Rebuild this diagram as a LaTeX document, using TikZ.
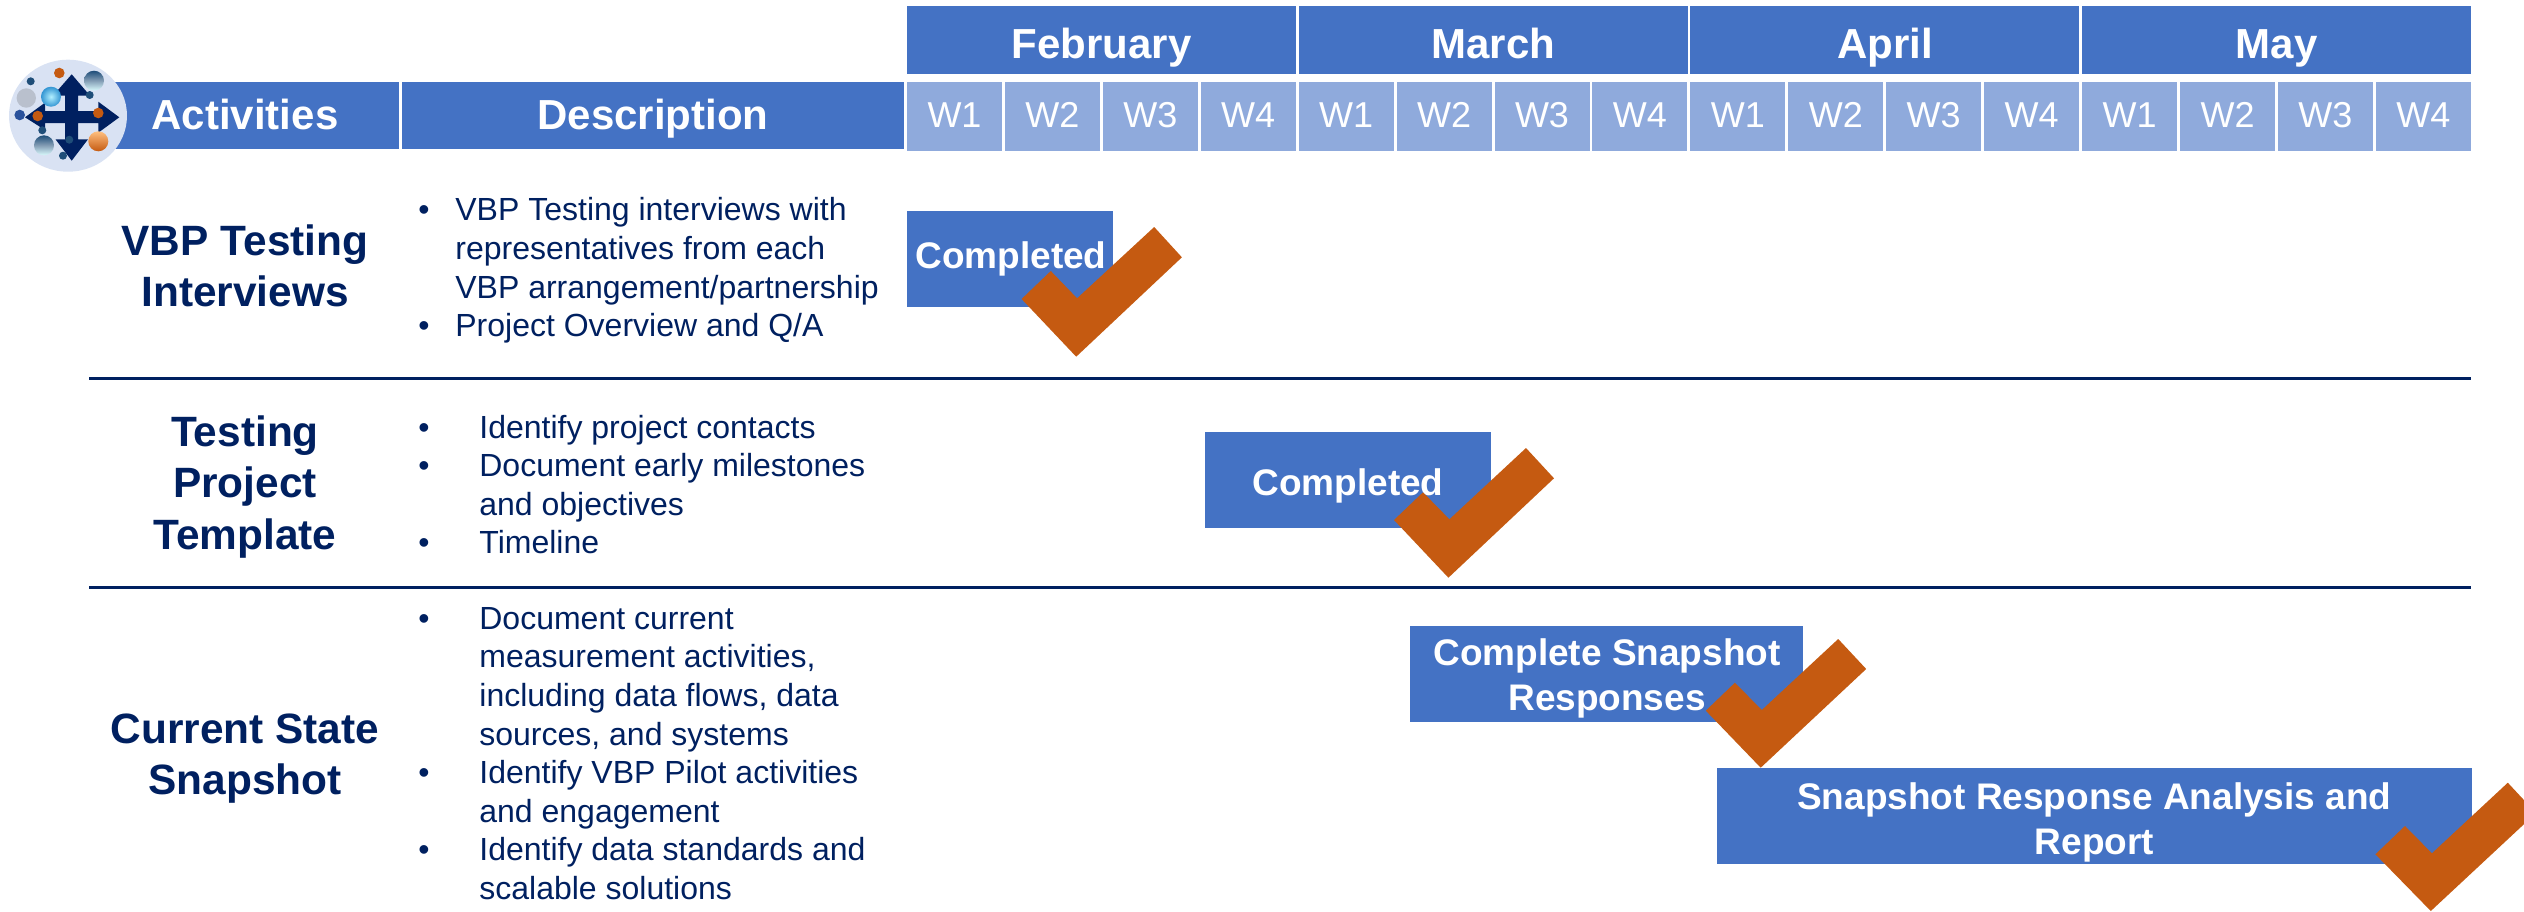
\documentclass[tikz,border=0pt]{standalone}
\usepackage{fontspec}
\setmainfont{Liberation Sans}
\definecolor{barblue}{HTML}{4472C4}
\definecolor{weekblue}{HTML}{8FAADC}
\definecolor{navy}{HTML}{002060}
\definecolor{chkorange}{HTML}{C55A11}
\definecolor{logobg}{HTML}{D9E2F3}
\definecolor{teal}{HTML}{1F4E79}
\newcommand{\fs}[2]{\fontsize{#1}{#2}\selectfont}
\newcommand{\bla}[1]{\makebox[18.5pt][l]{•}#1}
\newcommand{\blb}[1]{\makebox[30.5pt][l]{•}#1}
\newcommand{\blc}[1]{\makebox[30.5pt][l]{}#1}
\newcommand{\bld}[1]{\makebox[18.5pt][l]{}#1}
\tikzset{
  bar/.style={fill=barblue,draw=none,inner sep=0pt,text=white,font=\bfseries\fs{21}{25},align=center},
  monthbar/.style={bar,minimum width=194.5pt,minimum height=33.8pt,text height=18.4pt,text depth=0pt},
  weekbar/.style={fill=weekblue,draw=none,inner sep=0pt,text=white,font=\fs{18}{22},minimum width=47.5pt,minimum height=34.6pt,text height=11.3pt,text depth=0pt},
  taskbar/.style={fill=barblue,draw=none,inner sep=0pt,minimum height=48pt},
  tasktext/.style={inner sep=0pt,text=white,font=\bfseries\fs{18.5}{22.5},align=center},
  rowlabel/.style={inner sep=0pt,text=navy,font=\bfseries\fs{21.2}{25.7},align=center},
  desc/.style={inner sep=0pt,anchor=west,text=navy,font=\fs{16}{19.3},align=left},
  headlabel/.style={inner sep=0pt,anchor=base,text=white,font=\bfseries\fs{21}{25}},
  chk/.style={fill=chkorange,draw=none},
  rule/.style={draw=navy,line width=1.5pt},
}
\begin{document}
\begin{tikzpicture}[x=0.5pt,y=-0.5pt]
\clip (0,0) rectangle (2524,911);
% header bars
\node[bar,minimum width=142pt,minimum height=33.5pt] (activities) at (257,115.2) {};
\node[bar,minimum width=251pt,minimum height=33.5pt] (description) at (653,115.2) {};
\node[headlabel] (descriptionlabel) at (653,129.3) {Description};
% logo
\fill[logobg] (68,115.7) ellipse [x radius=59,y radius=56];
\fill[navy] (71.7,74.3) -- (90,95.7) -- (78,95.7) -- (78,111) -- (98.3,111) -- (98.3,101.7) -- (119.3,117.3) -- (98.3,132.7) -- (98.3,123) -- (78,123) -- (78,139.3) -- (88,139.3) -- (71.7,160.7) -- (55.5,139.3) -- (65,139.3) -- (65,123) -- (45,123) -- (45,130) -- (25,117.3) -- (45,102.7) -- (45,111) -- (65,111) -- (65,95.7) -- (53,95.7) -- cycle;
\fill[chkorange] (59.3,73) circle (5.3);
\fill[teal] (30.7,81.3) circle (4);
\shade[top color=teal,bottom color=logobg!60!cyan!30!white,middle color=teal!55!white] (94,80.7) circle (10);
\fill[teal] (89.7,95) circle (4);
\fill[black!10!logobg!85!gray] (26.3,98) circle (9.7);
\shade[inner color=blue!20!cyan!30!white,outer color=barblue!75!cyan] (51,96.7) circle (10);
\fill[barblue!60!navy] (19.7,115) circle (5.3);
\fill[chkorange] (37.7,116) circle (5.3);
\fill[chkorange] (98.3,113) circle (5.3);
\fill[teal] (42.3,130.3) circle (4);
\shade[top color=teal,bottom color=logobg!60!cyan!30!white,middle color=teal!55!white] (44,145.3) circle (10);
\fill[teal] (69.3,139.7) circle (4);
\shade[top color=orange!50!white,bottom color=chkorange] (98.3,141.3) circle (10);
\fill[teal] (63,155.7) circle (4);
\node[headlabel] (activitieslabel) at (245,129.3) {Activities};
% months and weeks
\foreach \m/\name [count=\i from 0] in {feb/February,mar/March,apr/April,may/May}{
  \node[monthbar] (\m) at ({1101.5+391.7*\i},39.9) {\name};
  \foreach \w [count=\j from 0] in {1,2,3,4}{
    \node[weekbar] (\m w\w) at ({954.5+391.7*\i+97.9*\j},116.4) {W\w};
  }
}
% separators
\coordinate (r1a) at (89,378);
\coordinate (r1b) at (2471,378);
\coordinate (r2a) at (89,587.5);
\coordinate (r2b) at (2471,587.5);
\draw[rule] (r1a) -- (r1b);
\draw[rule] (r2a) -- (r2b);
% row labels
\node[rowlabel] (row1) at (245,266) {VBP Testing\\Interviews};
\node[rowlabel] (row2) at (245,487) {Testing\\Project\\Template};
\node[rowlabel] (row3) at (245,758.5) {Current State\\Snapshot};
% descriptions
\node[desc] (d1) at (418,270.5) {\bla{VBP Testing interviews with}\\\bld{representatives from each}\\\bld{VBP arrangement/partnership}\\\bla{Project Overview and Q/A}};
\node[desc] (d2) at (418,484.6) {\blb{Identify project contacts}\\\blb{Document early milestones}\\\blc{and objectives}\\\blb{Timeline}};
\node[desc] (d3) at (418,753.5) {\blb{Document current}\\\blc{measurement activities,}\\\blc{including data flows, data}\\\blc{sources, and systems}\\\blb{Identify VBP Pilot activities}\\\blc{and engagement}\\\blb{Identify data standards and}\\\blc{scalable solutions}};
% tasks
\node[taskbar,minimum width=103pt] (t1) at (1010,259) {};
\node[tasktext] (t1l) at (1011,259) {Completed};
\node[taskbar,minimum width=143pt] (t2) at (1348,480) {};
\node[tasktext] (t2l) at (1348,486) {Completed};
\node[taskbar,minimum width=196.5pt] (t3) at (1606.5,674) {};
\node[tasktext] (t3l) at (1607,678) {Complete Snapshot\\Responses};
\node[taskbar,minimum width=377.3pt] (t4) at (2094.4,816) {};
\node[tasktext] (t4l) at (2094.4,822) {Snapshot Response Analysis and\\Report};
% check marks
\fill[chk] (1154.2,227) -- (1181.9,257.3) -- (1076.2,356.7) -- (1021.6,299) -- (1050.8,271) -- (1077.1,298.3) -- cycle;
\fill[chk] (1526,448) -- (1554,478.3) -- (1448.4,577.7) -- (1394,520) -- (1423,492.3) -- (1449.4,519.3) -- cycle;
\fill[chk] (1838.2,639) -- (1866.2,669) -- (1760.7,767.7) -- (1705.8,710.7) -- (1734.9,682.7) -- (1761.8,710) -- cycle;
\fill[chk] (2507.8,782.7) -- (2536,813) -- (2430.8,911) -- (2375.4,854.3) -- (2405,826) -- (2431.9,853.3) -- cycle;
\end{tikzpicture}
\end{document}
